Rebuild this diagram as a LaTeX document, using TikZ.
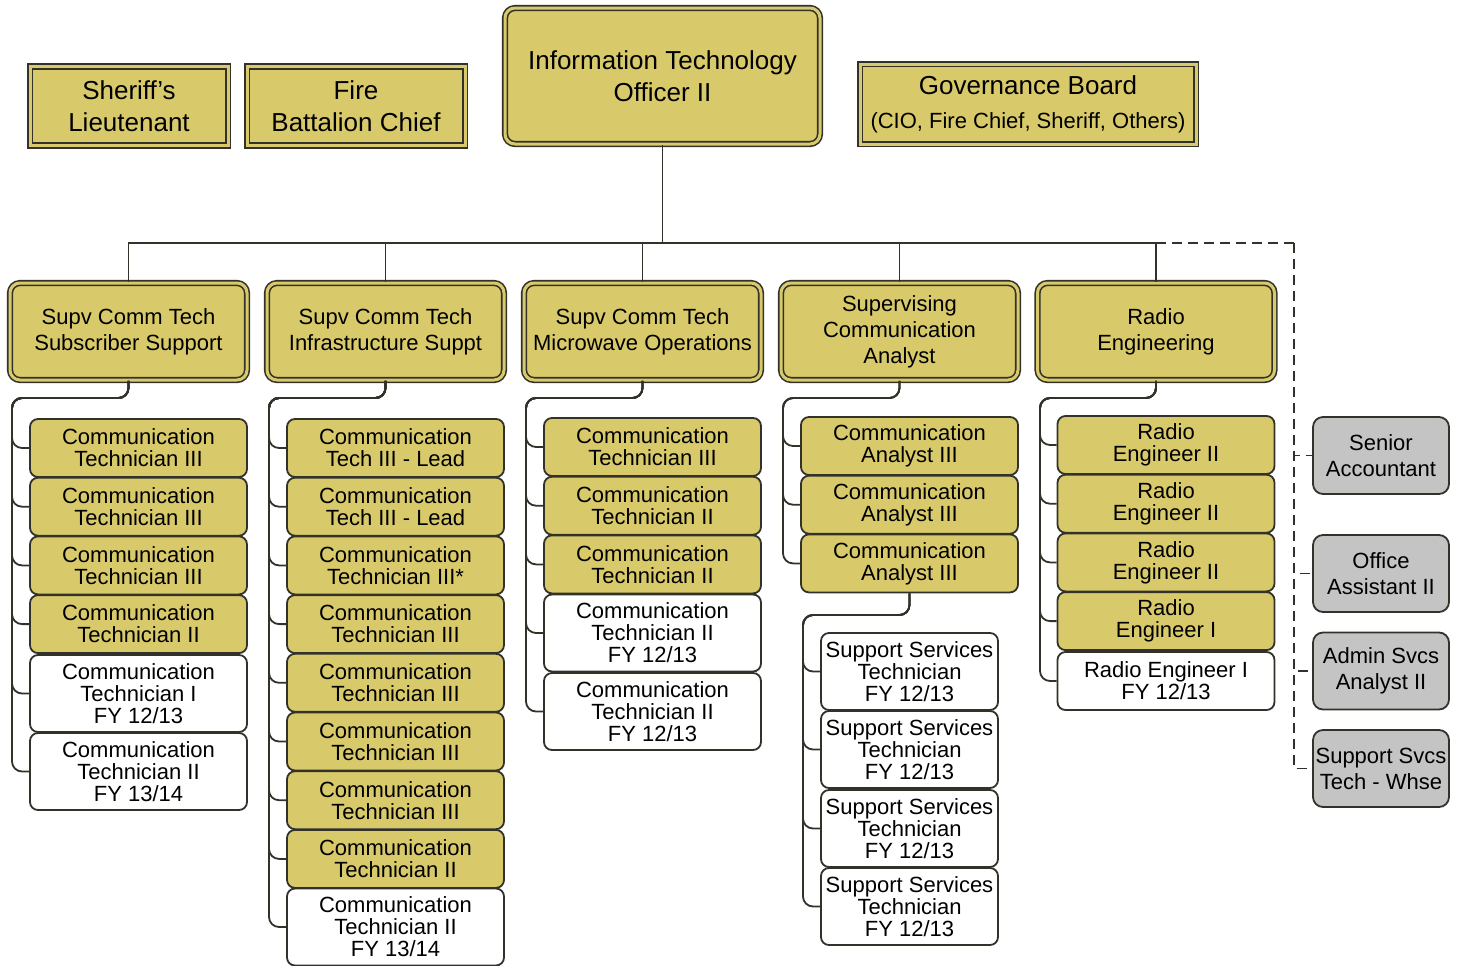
\documentclass[tikz,border=0pt]{standalone}
\usepackage{fontspec}
\setmainfont{Liberation Sans}
\usepackage{tikz}
\definecolor{gold}{RGB}{216,202,106}
\definecolor{grey}{RGB}{196,196,196}
\definecolor{edge}{RGB}{50,50,42}

\begin{document}
\begin{tikzpicture}[x=0.5pt, y=-0.5pt,
  head node/.style={draw=edge, double=gold, double distance=1.5pt, line width=0.8pt, fill=gold, align=center, inner sep=0pt, font=\fontsize{13}{16}\selectfont},
  boss node/.style={head node, rounded corners=5pt, minimum width=118.5pt, minimum height=48.5pt, font=\fontsize{11}{13}\selectfont},
  staff node/.style={draw=edge, line width=0.9pt, fill=gold, rounded corners=4pt, align=center, inner sep=0pt, minimum width=108.5pt, minimum height=29pt, font=\fontsize{11}{11}\selectfont},
  new node/.style={staff node, fill=white, minimum height=38.5pt},
  grey node/.style={staff node, fill=grey, minimum width=68pt, minimum height=38.5pt, rounded corners=5pt, font=\fontsize{11}{13}\selectfont},
  link/.style={draw=edge, line width=0.9pt, rounded corners=5pt},
  dash link/.style={draw=edge, line width=0.9pt, dash pattern=on 5pt off 3pt}]
\useasboundingbox (0,0) rectangle (1462,965);

% top row
\node[head node, minimum width=99pt, minimum height=39.5pt] (sl) at (129,106) {Sheriff’s\\Lieutenant};
\node[head node, minimum width=109pt, minimum height=39.5pt] (fbc) at (356,106) {Fire\\Battalion Chief};
\node[head node, rounded corners=5pt, minimum width=157.5pt, minimum height=68pt] (0) at (662.5,76) {Information Technology\\Officer II};
\node[head node, minimum width=168pt, minimum height=40pt] (gb) at (1028,104) {Governance Board\\[1pt]{\fontsize{11}{13}\selectfont (CIO, Fire Chief, Sheriff, Others)}};

% supervisors
\node[boss node] (1) at (128.5,331.5) {Supv Comm Tech\\Subscriber Support};
\node[boss node] (2) at (385.5,331.5) {Supv Comm Tech\\Infrastructure Suppt};
\node[boss node] (3) at (642.5,331.5) {Supv Comm Tech\\Microwave Operations};
\node[boss node] (4) at (899.5,331.5) {Supervising\\Communication\\Analyst};
\node[boss node] (5) at (1156,331.5) {Radio\\Engineering};

% column 1
\node[staff node] (1-1) at (138.5,448) {Communication\\Technician III};
\node[staff node] (1-2) at (138.5,506.7) {Communication\\Technician III};
\node[staff node] (1-3) at (138.5,565.4) {Communication\\Technician III};
\node[staff node] (1-4) at (138.5,624.1) {Communication\\Technician II};
\node[new node] (1-5) at (138.5,693.5) {Communication\\Technician I\\FY 12/13};
\node[new node] (1-6) at (138.5,771.5) {Communication\\Technician II\\FY 13/14};

% column 2
\node[staff node] (2-1) at (395.5,448) {Communication\\Tech III - Lead};
\node[staff node] (2-2) at (395.5,506.7) {Communication\\Tech III - Lead};
\node[staff node] (2-3) at (395.5,565.4) {Communication\\Technician III*};
\node[staff node] (2-4) at (395.5,624.1) {Communication\\Technician III};
\node[staff node] (2-5) at (395.5,682.8) {Communication\\Technician III};
\node[staff node] (2-6) at (395.5,741.5) {Communication\\Technician III};
\node[staff node] (2-7) at (395.5,800.2) {Communication\\Technician III};
\node[staff node] (2-8) at (395.5,858.9) {Communication\\Technician II};
\node[new node] (2-9) at (395.5,927) {Communication\\Technician II\\FY 13/14};

% column 3
\node[staff node] (3-1) at (652.5,447) {Communication\\Technician III};
\node[staff node] (3-2) at (652.5,505.7) {Communication\\Technician II};
\node[staff node] (3-3) at (652.5,564.4) {Communication\\Technician II};
\node[new node] (3-4) at (652.5,633) {Communication\\Technician II\\FY 12/13};
\node[new node] (3-5) at (652.5,711.5) {Communication\\Technician II\\FY 12/13};

% column 4
\node[staff node] (4-1) at (909.5,446) {Communication\\Analyst III};
\node[staff node] (4-2) at (909.5,504.7) {Communication\\Analyst III};
\node[staff node] (4-3) at (909.5,563.4) {Communication\\Analyst III};
\node[new node, minimum width=88.5pt] (4-4) at (909.5,671.5) {Support Services\\Technician\\FY 12/13};
\node[new node, minimum width=88.5pt] (4-5) at (909.5,749.5) {Support Services\\Technician\\FY 12/13};
\node[new node, minimum width=88.5pt] (4-6) at (909.5,828.5) {Support Services\\Technician\\FY 12/13};
\node[new node, minimum width=88.5pt] (4-7) at (909.5,906.5) {Support Services\\Technician\\FY 12/13};

% column 5
\node[staff node] (5-1) at (1166,445) {Radio\\Engineer II};
\node[staff node] (5-2) at (1166,503.7) {Radio\\Engineer II};
\node[staff node] (5-3) at (1166,562.4) {Radio\\Engineer II};
\node[staff node] (5-4) at (1166,621.1) {Radio\\Engineer I};
\node[new node, minimum height=29pt] (5-5) at (1166,681) {Radio Engineer I\\FY 12/13};

% admin staff
\node[grey node] (6-1) at (1381,455.5) {Senior\\Accountant};
\node[grey node] (6-2) at (1381,573.5) {Office\\Assistant II};
\node[grey node] (6-3) at (1381,671) {Admin Svcs\\Analyst II};
\node[grey node] (6-4) at (1381,768.5) {Support Svcs\\Tech - Whse};

% buses
\coordinate (bus) at (662.5,243);
\coordinate (dash) at (1294,243);
\coordinate (b1) at (12,398);
\coordinate (b2) at (269,398);
\coordinate (b3) at (526,398);
\coordinate (b4) at (783,398);
\coordinate (b4x) at (803,615);
\coordinate (b5) at (1040,398);

\draw[draw=edge, line width=0.9pt] (0.south) -- (bus);
\foreach \m in {1,...,5}
  \draw[draw=edge, line width=0.9pt] (bus) -| (\m.north);

\foreach \c in {1,...,6}
  \draw[link] (1.south) |- (b1) |- (1-\c.west);
\foreach \c in {1,...,9}
  \draw[link] (2.south) |- (b2) |- (2-\c.west);
\foreach \c in {1,...,5}
  \draw[link] (3.south) |- (b3) |- (3-\c.west);
\foreach \c in {1,...,3}
  \draw[link] (4.south) |- (b4) |- (4-\c.west);
\foreach \c in {4,...,7}
  \draw[link] (4-3.south) |- (b4x) |- (4-\c.west);
\foreach \c in {1,...,5}
  \draw[link] (5.south) |- (b5) |- (5-\c.west);

\draw[dash link] (5.north |- bus) -- (dash);
\foreach \g in {1,...,4}
  \draw[dash link] (dash) |- (6-\g.west);
\end{tikzpicture}
\end{document}
